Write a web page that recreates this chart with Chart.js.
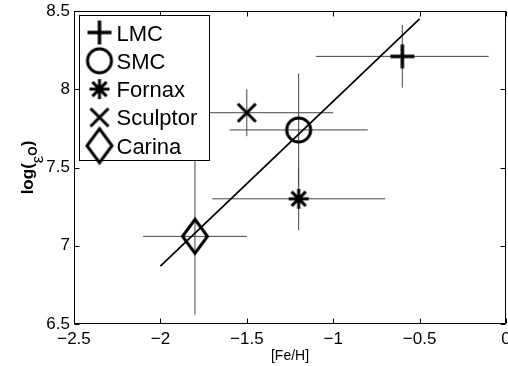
<!DOCTYPE html>
<html>
<head>
<meta charset="utf-8">
<script src="https://cdn.jsdelivr.net/npm/chart.js@4.4.0/dist/chart.umd.min.js"></script>
<style>
    html, body { margin: 0; padding: 0; background: #fff; }
</style>
</head>
<body>
<canvas id="grafik" width="508" height="366"></canvas>
<script>
// Data galaksi
const galaxies = ['LMC', 'SMC', 'Fornax', 'Sculptor', 'Carina'];
const feH = [-0.6, -1.2, -1.2, -1.5, -1.8];
const feHErr = [0.5, 0.4, 0.5, 0.5, 0.3];
const logO = [8.21, 7.74, 7.30, 7.85, 7.06];
const logOErr = [0.2, 0.36, 0.2, 0.15, 0.5];

// Garis fit
const fitX = [-2.0, -0.5];
const fitY = [6.87, 8.45];

// Tick
const xTicks = [-2.5, -2, -1.5, -1, -0.5, 0];
const yTicks = [6.5, 7, 7.5, 8, 8.5];

const FONT = '"Liberation Sans", Arial, Helvetica, sans-serif';

// Marker seperti MATLAB
function makeMarker(kind) {
    const c = document.createElement('canvas');
    const size = { plus: [26, 26], circle: [30, 30], star: [24, 24], x: [22, 22], diamond: [30, 40] }[kind];
    c.width = size[0];
    c.height = size[1];
    const g = c.getContext('2d');
    const cx = c.width / 2, cy = c.height / 2;
    g.strokeStyle = '#000';
    g.lineWidth = 3;
    g.beginPath();
    if (kind === 'plus') {
        g.lineWidth = 3.5;
        g.moveTo(cx - 12, cy); g.lineTo(cx + 12, cy);
        g.moveTo(cx, cy - 12); g.lineTo(cx, cy + 12);
    } else if (kind === 'circle') {
        g.arc(cx, cy, 12, 0, Math.PI * 2);
    } else if (kind === 'star') {
        const r = 10, d = r * Math.SQRT1_2;
        g.moveTo(cx - r, cy); g.lineTo(cx + r, cy);
        g.moveTo(cx, cy - r); g.lineTo(cx, cy + r);
        g.moveTo(cx - d, cy - d); g.lineTo(cx + d, cy + d);
        g.moveTo(cx - d, cy + d); g.lineTo(cx + d, cy - d);
    } else if (kind === 'x') {
        g.moveTo(cx - 9, cy - 9); g.lineTo(cx + 9, cy + 9);
        g.moveTo(cx - 9, cy + 9); g.lineTo(cx + 9, cy - 9);
    } else if (kind === 'diamond') {
        g.lineJoin = 'miter';
        g.moveTo(cx, cy - 17); g.lineTo(cx + 12.5, cy);
        g.lineTo(cx, cy + 17); g.lineTo(cx - 12.5, cy);
        g.closePath();
    }
    g.stroke();
    return c;
}

const markerKinds = ['plus', 'circle', 'star', 'x', 'diamond'];
const markers = markerKinds.map(makeMarker);

function fmtMinus(v) {
    return v < 0 ? '\u2212' + Math.abs(v) : String(v);
}

// Error bar
const errorBars = {
    id: 'errorBars',
    beforeDatasetsDraw(chart) {
        const { ctx, chartArea, scales: { x, y } } = chart;
        ctx.save();
        ctx.beginPath();
        ctx.rect(chartArea.left, chartArea.top, chartArea.right - chartArea.left, chartArea.bottom - chartArea.top);
        ctx.clip();
        ctx.strokeStyle = '#444';
        ctx.lineWidth = 1;
        galaxies.forEach((g, i) => {
            const px = x.getPixelForValue(feH[i]);
            const py = y.getPixelForValue(logO[i]);
            ctx.beginPath();
            ctx.moveTo(x.getPixelForValue(feH[i] - feHErr[i]), py);
            ctx.lineTo(x.getPixelForValue(feH[i] + feHErr[i]), py);
            ctx.moveTo(px, y.getPixelForValue(logO[i] + logOErr[i]));
            ctx.lineTo(px, y.getPixelForValue(logO[i] - logOErr[i]));
            ctx.stroke();
        });
        ctx.restore();
    }
};

// Kotak, tick ke dalam, legenda, judul sumbu y
const frame = {
    id: 'frame',
    afterDraw(chart) {
        const { ctx, chartArea: a, scales: { x, y } } = chart;
        ctx.save();
        ctx.strokeStyle = '#000';
        ctx.lineWidth = 1;
        const L = Math.round(a.left) + 0.5, R = Math.round(a.right) - 0.5;
        const T = Math.round(a.top) + 0.5, B = Math.round(a.bottom) - 0.5;
        ctx.strokeRect(L, T, R - L, B - T);
        ctx.beginPath();
        xTicks.forEach(v => {
            const px = Math.round(x.getPixelForValue(v)) + 0.5;
            ctx.moveTo(px, B); ctx.lineTo(px, B - 5);
            ctx.moveTo(px, T); ctx.lineTo(px, T + 5);
        });
        yTicks.forEach(v => {
            const py = Math.round(y.getPixelForValue(v)) + 0.5;
            ctx.moveTo(L, py); ctx.lineTo(L + 5, py);
            ctx.moveTo(R, py); ctx.lineTo(R - 5, py);
        });
        ctx.stroke();

        // Legenda
        const bx = Math.round(a.left) + 5.5, by = Math.round(a.top) + 4.5;
        ctx.fillStyle = '#fff';
        ctx.fillRect(bx, by, 130, 145);
        ctx.strokeRect(bx, by, 130, 145);
        ctx.fillStyle = '#000';
        ctx.font = '22px ' + FONT;
        ctx.textBaseline = 'alphabetic';
        ctx.textAlign = 'left';
        galaxies.forEach((g, i) => {
            const cy = by + 17 + i * 28.3;
            const m = markers[i];
            ctx.drawImage(m, bx + 20 - m.width / 2, cy - m.height / 2);
            ctx.fillText(g, bx + 37, cy + 8);
        });

        // Judul sumbu y: log(eps_O)
        ctx.translate(33, (a.top + a.bottom) / 2);
        ctx.rotate(-Math.PI / 2);
        const parts = [
            { t: 'log(', f: 'bold 17px ', dy: 0 },
            { t: '\u03B5', f: '17px ', dy: 10 },
            { t: 'O', f: 'bold 12px ', dy: 4 },
            { t: ')', f: 'bold 17px ', dy: 0 }
        ];
        let total = 0;
        parts.forEach(p => { ctx.font = p.f + FONT; p.w = ctx.measureText(p.t).width; total += p.w; });
        let sx = -total / 2;
        parts.forEach(p => {
            ctx.font = p.f + FONT;
            ctx.fillText(p.t, sx, p.dy);
            sx += p.w;
        });
        ctx.restore();
    }
};

const datasets = galaxies.map((g, i) => ({
    label: g,
    data: [{ x: feH[i], y: logO[i] }],
    pointStyle: markers[i],
    pointRadius: 12,
    showLine: false
}));
datasets.push({
    label: 'fit',
    type: 'line',
    data: fitX.map((v, i) => ({ x: v, y: fitY[i] })),
    borderColor: '#000',
    borderWidth: 1.7,
    pointRadius: 0,
    fill: false
});

new Chart(document.getElementById('grafik').getContext('2d'), {
    type: 'scatter',
    data: { datasets: datasets },
    options: {
        responsive: false,
        animation: false,
        layout: { autoPadding: false, padding: { top: 11, right: 2, left: 0, bottom: 0 } },
        plugins: { legend: { display: false }, tooltip: { enabled: false } },
        scales: {
            x: {
                type: 'linear',
                min: -2.5,
                max: 0,
                afterFit: s => { s.height = 42; s.paddingLeft = 0; s.paddingRight = 0; },
                afterBuildTicks: s => { s.ticks = xTicks.map(v => ({ value: v })); },
                grid: { display: false, drawTicks: false },
                border: { display: false },
                ticks: {
                    padding: 5,
                    color: '#000',
                    font: { family: FONT, size: 17 },
                    maxRotation: 0,
                    autoSkip: false,
                    callback: v => fmtMinus(v)
                },
                title: {
                    display: true,
                    text: '[Fe/H]',
                    color: '#000',
                    font: { family: FONT, size: 14 },
                    padding: { top: 0, bottom: 1 }
                }
            },
            y: {
                type: 'linear',
                min: 6.5,
                max: 8.5,
                afterFit: s => { s.width = 74; s.paddingTop = 0; s.paddingBottom = 0; },
                afterBuildTicks: s => { s.ticks = yTicks.map(v => ({ value: v })); },
                grid: { display: false, drawTicks: false },
                border: { display: false },
                ticks: {
                    padding: 4,
                    color: '#000',
                    font: { family: FONT, size: 17 },
                    autoSkip: false,
                    callback: v => String(v)
                }
            }
        }
    },
    plugins: [errorBars, frame]
});
</script>
</body>
</html>
